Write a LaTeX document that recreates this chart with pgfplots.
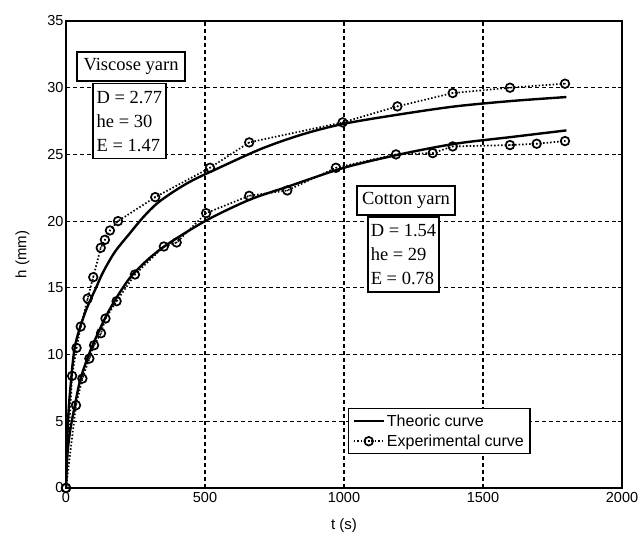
\documentclass[border=0pt]{standalone}
\usepackage{pgfplots}
\pgfplotsset{compat=1.18}
\usepackage{fontspec}
\setmainfont{Liberation Serif}
\setsansfont{Liberation Sans}
\pgfdeclareplotmark{odot}{%
  \pgfpathcircle{\pgfpointorigin}{\pgfplotmarksize}\pgfusepathqstroke
  \pgfpathcircle{\pgfpointorigin}{0.9pt}\pgfusepathqfill}
\begin{document}
\begin{tikzpicture}
\begin{axis}[
  scale only axis, width=556pt, height=467pt,
  xmin=0, xmax=2000, ymin=0, ymax=35,
  xtick={0,500,...,2000}, ytick={0,5,...,35},
  scaled ticks=false,
  /pgf/number format/1000 sep={},
  /pgf/number format/assume math mode=true,
  tick label style={font=\sffamily\fontsize{14.5}{16}\selectfont, black},
  label style={font=\sffamily\fontsize{15}{17}\selectfont},
  xlabel={t (s)}, ylabel={h (mm)},
  xlabel style={yshift=-9pt},
  ylabel style={yshift=11pt},
  xticklabel style={yshift=-1pt},
  yticklabel style={xshift=1pt},
  tick align=inside, major tick length=4pt, tick style={black, line width=0.8pt},
  axis line style={line width=1.6pt},
  grid=major,
  major grid style={black, line width=1.1pt, dash pattern=on 4pt off 3pt},
  legend style={at={(axis cs:1014,6.0)}, anchor=north west, draw=black, line width=1.3pt,
    font=\sffamily\fontsize{16}{18}\selectfont, fill=white, inner xsep=4pt, inner ysep=4pt,
    row sep=3pt},
  legend cell align=left,
  legend image code/.code={\draw[mark repeat=2,mark phase=2,#1] plot coordinates {(0pt,0pt) (15pt,0pt) (30pt,0pt)};},
]
% Viscose theoretical
\addplot[black, line width=2.4pt, smooth, mark=none] coordinates {
(0,0) (3,3.0) (8,5.3) (15,7.3) (32,10.6) (68,13.1) (110,15.1) (134,16.2) (176,17.7) (230,19.1)
(278,20.3) (326,21.3) (386,22.2) (450,23.0) (520,23.7) (700,25.4) (850,26.5) (1000,27.3)
(1200,28.0) (1400,28.6) (1600,29.0) (1800,29.3)};
\addlegendentry{Theoric curve}
% Viscose experimental
\addplot[black, line width=1.7pt, dash pattern=on 1.5pt off 2pt, mark=odot, mark size=4.3pt,
  mark options={solid, line width=1.7pt}] coordinates {
(0,0) (22,8.4) (38,10.5) (53,12.1) (78,14.2) (98,15.8) (125,18.0) (140,18.6) (158,19.3)
(187,20.0) (321,21.8) (518,24.0) (659,25.9) (995,27.4) (1192,28.6) (1391,29.6)
(1597,30.0) (1795,30.3)};
\addlegendentry{Experimental curve}
% Cotton theoretical
\addplot[black, line width=2.4pt, smooth, mark=none, forget plot] coordinates {
(0,0) (5,2.5) (15,4.3) (30,6.0) (50,8.0) (75,9.6) (100,10.9) (140,12.7) (180,14.2)
(240,16.0) (340,17.9) (500,20.0) (660,21.6) (800,22.6) (1000,24.0) (1200,25.0)
(1400,25.8) (1600,26.3) (1800,26.8)};
% Cotton experimental
\addplot[black, line width=1.7pt, dash pattern=on 1.5pt off 2pt, mark=odot, mark size=4.3pt,
  mark options={solid, line width=1.7pt}, forget plot] coordinates {
(0,0) (36,6.2) (59,8.2) (84,9.7) (101,10.7) (126,11.6) (142,12.7) (182,14.0) (248,16.0)
(352,18.1) (398,18.4) (504,20.6) (659,21.9) (796,22.3) (971,24.0) (1187,25.0)
(1319,25.1) (1391,25.6) (1597,25.7) (1693,25.8) (1795,26.0)};
% annotation boxes
\node[draw=black, line width=1.4pt, fill=white, inner sep=0pt, minimum width=108pt, minimum height=29pt,
  font=\fontsize{18.5}{24}\selectfont] at (axis cs:234,31.6) {Viscose yarn};
\node[draw=black, line width=1.4pt, fill=white, inner sep=0pt, minimum width=73pt, minimum height=75pt,
  align=left, font=\fontsize{18.5}{24}\selectfont] at (axis cs:228,27.5) {D = 2.77\\he = 30\\E = 1.47};
\node[draw=black, line width=1.4pt, fill=white, inner sep=0pt, minimum width=98pt, minimum height=29pt,
  font=\fontsize{18.5}{24}\selectfont] at (axis cs:1223,21.55) {Cotton yarn};
\node[draw=black, line width=1.4pt, fill=white, inner sep=0pt, minimum width=71pt, minimum height=75pt,
  align=left, font=\fontsize{18.5}{24}\selectfont] at (axis cs:1214,17.5) {D = 1.54\\he = 29\\E = 0.78};
\coordinate (SW) at (rel axis cs:0,0);
\coordinate (NE) at (rel axis cs:1,1);
\end{axis}
\pgfresetboundingbox
\useasboundingbox ([shift={(-66pt,-48pt)}]SW) rectangle ([shift={(18pt,21pt)}]NE);
\end{tikzpicture}
\end{document}
